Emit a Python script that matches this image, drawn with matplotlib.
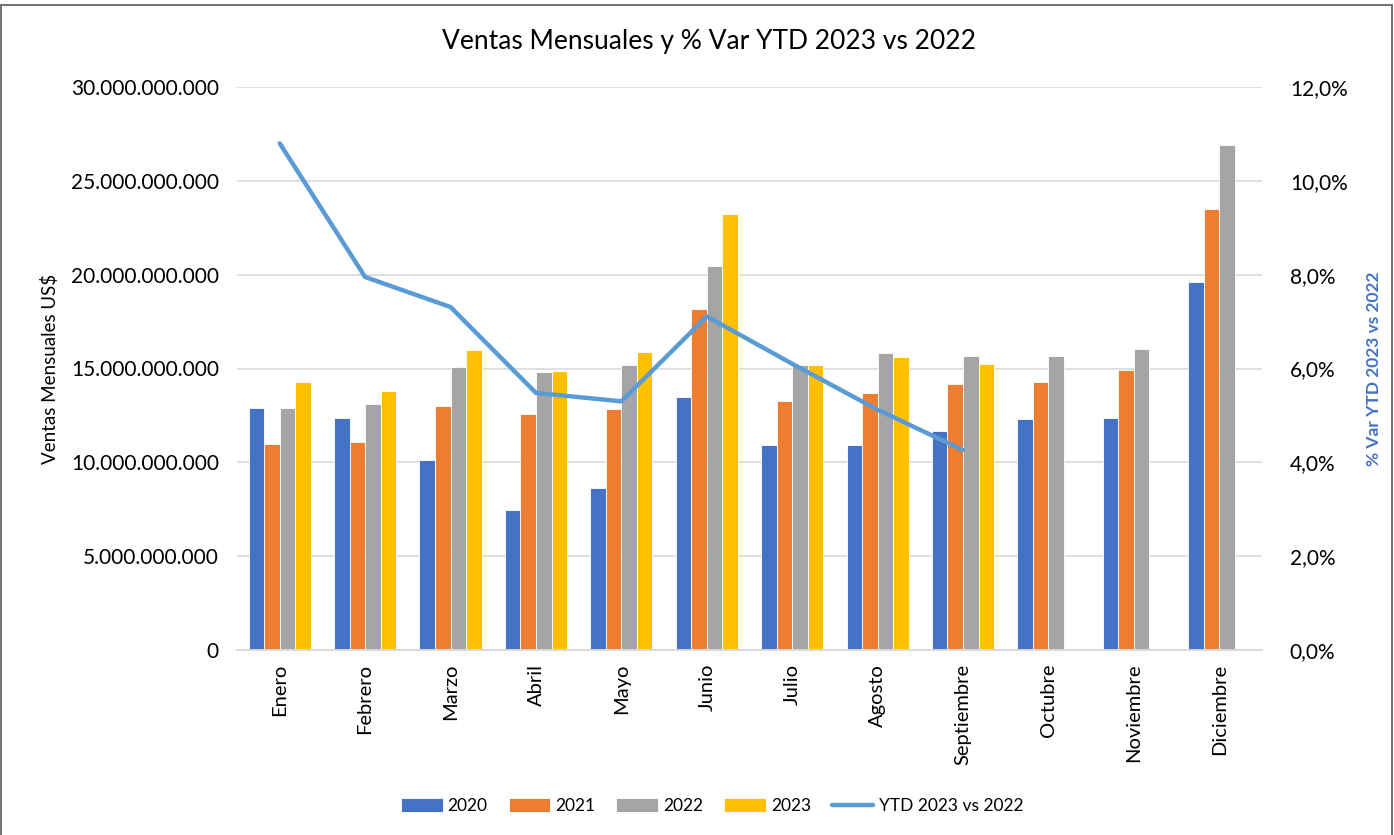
import numpy as np
import matplotlib.pyplot as plt
from matplotlib.patches import Rectangle
from matplotlib.ticker import FuncFormatter

plt.rcParams['font.family'] = ['Lato', 'DejaVu Sans']

meses = ['Enero', 'Febrero', 'Marzo', 'Abril', 'Mayo', 'Junio', 'Julio',
         'Agosto', 'Septiembre', 'Octubre', 'Noviembre', 'Diciembre']
ventas_2020 = [12.87, 12.36, 10.13, 7.45, 8.63, 13.46, 10.94, 10.94, 11.69, 12.30, 12.38, 19.63]
ventas_2021 = [10.98, 11.08, 13.01, 12.56, 12.85, 18.15, 13.29, 13.70, 14.15, 14.29, 14.94, 23.50]
ventas_2022 = [12.91, 13.13, 15.08, 14.82, 15.16, 20.46, 15.18, 15.81, 15.67, 15.65, 16.03, 26.91]
ventas_2023 = [14.29, 13.80, 16.01, 14.88, 15.87, 23.22, 15.18, 15.59, 15.26, np.nan, np.nan, np.nan]
ytd_var = [10.80, 7.95, 7.31, 5.48, 5.30, 7.11, 6.10, 5.12, 4.26]

series = [('2020', ventas_2020, '#4472C4'), ('2021', ventas_2021, '#ED7D31'),
          ('2022', ventas_2022, '#A5A5A5'), ('2023', ventas_2023, '#FFC000')]

fig = plt.figure(figsize=(13.94, 8.35), dpi=100)
ax = fig.add_axes([237/1394, 1 - 650/835, 1025/1394, 563/835])
ax2 = ax.twinx()

x = np.arange(len(meses))
w = 0.182
for i, (lab, vals, col) in enumerate(series):
    ax.bar(x + (i - 1.5) * w, np.array(vals) * 1e9, w, color=col, label=lab,
           edgecolor='white', linewidth=0.6, zorder=2)

ax2.plot(x[:len(ytd_var)], np.array(ytd_var) / 100, color='#5B9BD5', lw=3.2,
         label='YTD 2023 vs 2022', solid_capstyle='round', zorder=3)

ax.set_xlim(-0.5, len(meses) - 0.5)
ax.set_ylim(0, 30e9)
ax.set_yticks(np.arange(0, 30.1e9, 5e9))
ax.yaxis.set_major_formatter(FuncFormatter(lambda v, p: f'{int(round(v)):,}'.replace(',', '.')))
ax2.set_ylim(0, 0.12)
ax2.set_yticks(np.arange(0, 0.121, 0.02))
ax2.yaxis.set_major_formatter(FuncFormatter(lambda v, p: f'{v*100:.1f}%'.replace('.', ',')))

ax.set_xticks(x)
ax.set_xticklabels(meses, rotation=90, fontsize=14.5)
ax.tick_params(axis='y', labelsize=15, length=0, pad=13)
ax2.tick_params(axis='y', labelsize=15, length=0, pad=20)
ax.tick_params(axis='x', length=0, pad=10)

ax.grid(axis='y', color='#D9D9D9', lw=1.2, zorder=0)
ax.set_axisbelow(True)
for a in (ax, ax2):
    for s in ('top', 'left', 'right'):
        a.spines[s].set_visible(False)
    a.spines['bottom'].set_color('#D9D9D9')
    a.spines['bottom'].set_linewidth(1.2)

ax.set_ylabel('Ventas Mensuales US$', fontsize=13.5)
ax2.set_ylabel('% Var YTD 2023 vs 2022', fontsize=12.5, fontweight='bold',
               color='#4472C4')
ax2.yaxis.set_label_coords(1 + 104/1025, 0.5)
ax.yaxis.set_label_coords(-178/1025, 0.5)

fig.suptitle('Ventas Mensuales y % Var YTD 2023 vs 2022', x=709/1394, y=1 - 42/835,
             va='center', fontsize=19)

h1, l1 = ax.get_legend_handles_labels()
h2, l2 = ax2.get_legend_handles_labels()
fig.legend(h1 + h2, l1 + l2, loc='center', bbox_to_anchor=(712/1394, 1 - 806/835),
           ncol=5, frameon=False, fontsize=12.5, handlelength=2.4, handleheight=0.8,
           columnspacing=1.2, handletextpad=0.3)

fig.add_artist(Rectangle((0.0005, -0.01), 0.998, 1 - 5/835 + 0.01, transform=fig.transFigure,
                         fill=False, edgecolor='#595959', lw=1.2))

fig.savefig('out.png', dpi=100)
